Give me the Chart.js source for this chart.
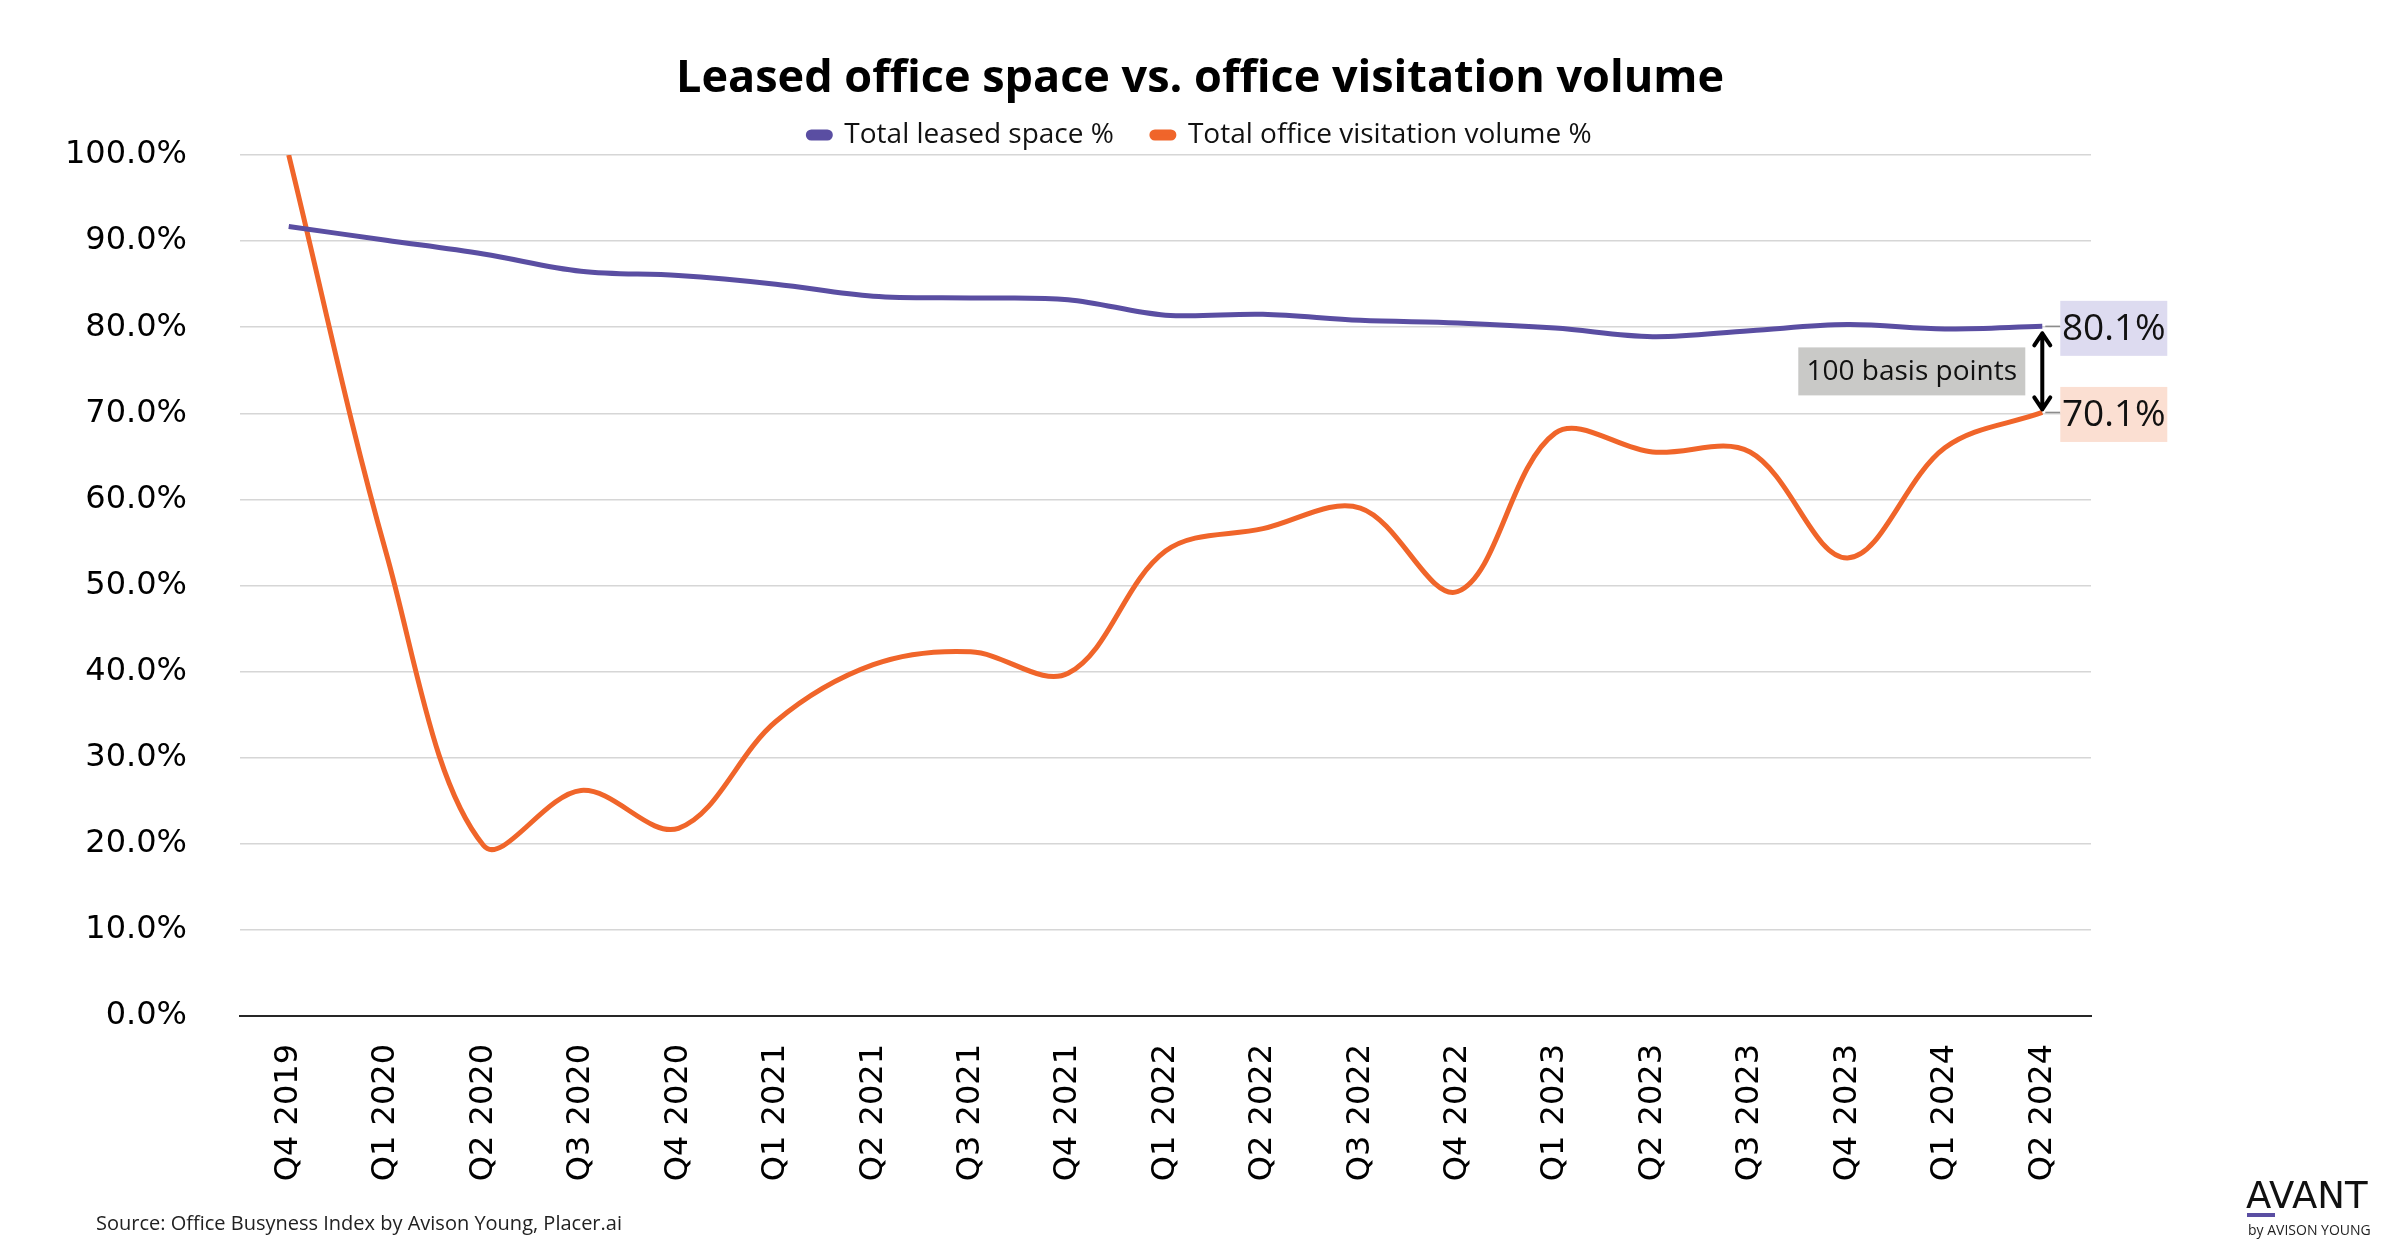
<!DOCTYPE html>
<html>
<head>
<meta charset="utf-8">
<script src="https://cdn.jsdelivr.net/npm/chart.js@4.4.1/dist/chart.umd.min.js"></script>
<style>
  html, body { margin: 0; padding: 0; background: #fff; }
  #wrap { width: 2400px; height: 1260px; }
</style>
</head>
<body>
<div id="wrap"><canvas id="myChart" width="2400" height="1260"></canvas></div>
<script>
// Quarters on the x axis
const quarters = [
  'Q4 2019', 'Q1 2020', 'Q2 2020', 'Q3 2020', 'Q4 2020',
  'Q1 2021', 'Q2 2021', 'Q3 2021', 'Q4 2021',
  'Q1 2022', 'Q2 2022', 'Q3 2022', 'Q4 2022',
  'Q1 2023', 'Q2 2023', 'Q3 2023', 'Q4 2023',
  'Q1 2024', 'Q2 2024'
];

// Values (%)
const leasedSpace = [
  91.7, 90.1, 88.5, 86.5, 86.0, 85.0, 83.6, 83.4, 83.2,
  81.4, 81.5, 80.8, 80.5, 79.9, 78.9, 79.6, 80.3, 79.8, 80.1
];
const visitationVolume = [
  100.0, 53.8, 19.8, 26.2, 21.8, 34.2, 40.8, 42.3, 39.8,
  54.0, 56.6, 59.0, 49.3, 67.7, 65.5, 65.5, 53.2, 66.0, 70.1
];

const seriesNames = ['Total leased space %', 'Total office visitation volume %'];
const gapLabel = '100 basis points';
const sourceText = 'Source: Office Busyness Index by Avison Young, Placer.ai';

const PURPLE = '#5a4ea2';
const ORANGE = '#f0652a';

// Draws the end-value boxes, the gap arrow, the source line and the logo
const annotations = {
  id: 'annotations',
  afterLayout(chart) {
    // nudge the legend row down a little, closer to the plot
    chart.legend.top += 4;
    chart.legend.bottom += 4;
  },
  afterDatasetsDraw(chart) {
    const { ctx, scales: { x, y } } = chart;
    const last = quarters.length - 1;
    const xEnd = x.getPixelForValue(last);
    const yTop = y.getPixelForValue(leasedSpace[last]);
    const yBot = y.getPixelForValue(visitationVolume[last]);

    ctx.save();

    // leader lines + end labels
    const boxLeft = xEnd + 18, boxW = 107, boxH = 55;
    [[yTop, leasedSpace[last], '#dddbf0'], [yBot, visitationVolume[last], '#fbdfd2']].forEach(([py, v, bg]) => {
      ctx.strokeStyle = '#8c8c8c';
      ctx.lineWidth = 1.5;
      ctx.beginPath();
      ctx.moveTo(xEnd + 3, py);
      ctx.lineTo(boxLeft, py);
      ctx.stroke();
      ctx.fillStyle = bg;
      ctx.fillRect(boxLeft, py - boxH / 2 + 2, boxW, boxH);
      ctx.fillStyle = '#111';
      ctx.font = '37px "Open Sans"';
      ctx.textAlign = 'center';
      ctx.textBaseline = 'middle';
      ctx.fillText(v.toFixed(1) + '%', boxLeft + boxW / 2, py + 3);
    });

    // double-headed arrow between the two end points
    const a1 = yTop + 7, a2 = yBot - 3;
    ctx.strokeStyle = '#000';
    ctx.lineWidth = 4;
    ctx.lineCap = 'round';
    ctx.lineJoin = 'round';
    ctx.beginPath();
    ctx.moveTo(xEnd, a1);
    ctx.lineTo(xEnd, a2);
    ctx.moveTo(xEnd - 8, a1 + 12);
    ctx.lineTo(xEnd, a1);
    ctx.lineTo(xEnd + 8, a1 + 12);
    ctx.moveTo(xEnd - 8, a2 - 12);
    ctx.lineTo(xEnd, a2);
    ctx.lineTo(xEnd + 8, a2 - 12);
    ctx.stroke();

    // gray "100 basis points" box
    const midY = (yTop + yBot) / 2 + 2;
    ctx.fillStyle = '#c9c9c7';
    ctx.fillRect(xEnd - 244, midY - 24, 227, 48);
    ctx.fillStyle = '#111';
    ctx.font = '28px "Open Sans"';
    ctx.textAlign = 'center';
    ctx.textBaseline = 'middle';
    ctx.fillText(gapLabel, xEnd - 244 + 227 / 2, midY + 1);

    // source note
    ctx.font = '20px "Open Sans"';
    ctx.textAlign = 'left';
    ctx.fillStyle = '#222';
    ctx.fillText(sourceText, 96, 1224);

    // logo
    ctx.font = '500 37px "DejaVu Sans"';
    ctx.textBaseline = 'alphabetic';
    ctx.fillStyle = '#111';
    ctx.fillText('AVANT', 2246, 1208);
    ctx.fillStyle = PURPLE;
    ctx.fillRect(2247, 1213, 28, 4);
    ctx.fillStyle = '#222';
    ctx.font = '14px "Open Sans"';
    ctx.fillText('by AVISON YOUNG', 2248, 1235);

    ctx.restore();
  }
};

const ctx = document.getElementById('myChart').getContext('2d');
const chart = new Chart(ctx, {
  type: 'line',
  data: {
    labels: quarters,
    datasets: [{
      label: seriesNames[0],
      data: leasedSpace,
      borderColor: PURPLE,
      backgroundColor: PURPLE,
      borderWidth: 5,
      pointRadius: 0,
      tension: 0.35,
    }, {
      label: seriesNames[1],
      data: visitationVolume,
      borderColor: ORANGE,
      backgroundColor: ORANGE,
      borderWidth: 5,
      pointRadius: 0,
      tension: 0.35,
    }],
  },
  options: {
    responsive: false,
    animation: false,
    devicePixelRatio: 1,
    layout: { padding: 0 },
    plugins: {
      title: {
        display: true,
        text: 'Leased office space vs. office visitation volume',
        color: '#000',
        font: { family: 'Open Sans', size: 45, weight: 'bold' },
        padding: { top: 52, bottom: -27 },
      },
      legend: {
        position: 'top',
        labels: {
          color: '#111',
          font: { family: 'Open Sans', size: 28 },
          boxWidth: 22,
          boxHeight: 6,
          useBorderRadius: true,
          borderRadius: 3,
          padding: 38,
        },
      },
      tooltip: { enabled: false },
    },
    scales: {
      x: {
        offset: true,
        grid: { display: false, drawTicks: false },
        border: { display: true, color: '#262626', width: 2 },
        ticks: {
          color: '#000',
          font: { family: 'DejaVu Sans', size: 32 },
          minRotation: 90,
          maxRotation: 90,
          padding: 28,
          autoSkip: false,
        },
        afterFit: s => { s.height = 244; },
      },
      y: {
        min: 0,
        max: 100,
        grid: { color: '#d6d6d6', lineWidth: 1.5, drawTicks: false },
        border: { display: false },
        ticks: {
          stepSize: 10,
          color: '#000',
          font: { family: 'DejaVu Sans', size: 32 },
          padding: 53,
          callback: v => v.toFixed(1) + '%',
        },
        afterFit: s => { s.width = 240; },
      },
      // empty right-hand axis only reserves room for the end labels
      yRight: {
        position: 'right',
        grid: { display: false },
        border: { display: false },
        ticks: { display: false },
        afterFit: s => { s.width = 309; },
      },
    },
  },
  plugins: [annotations],
});
</script>
</body>
</html>
